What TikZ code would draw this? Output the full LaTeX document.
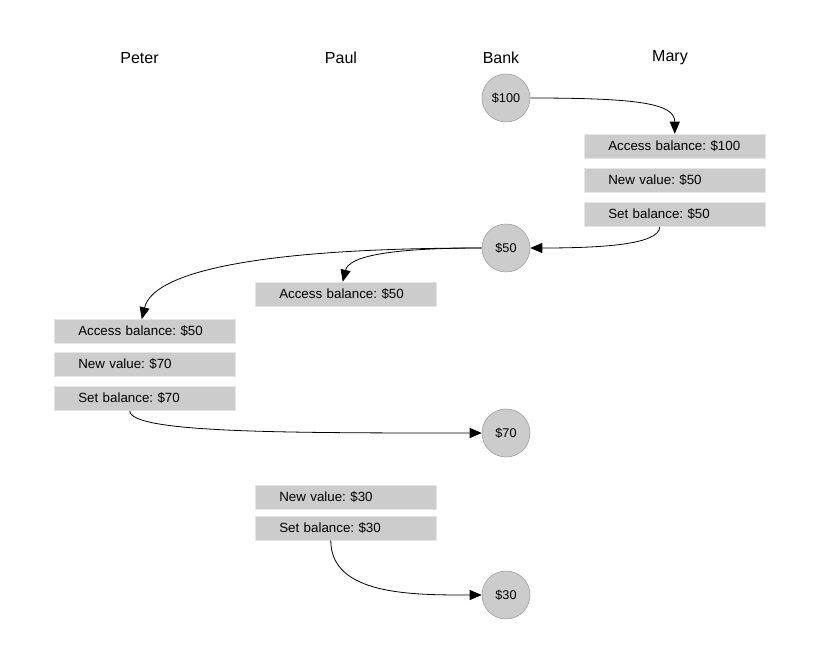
\documentclass[tikz,border=0pt]{standalone}
\usepackage{fontspec}
\setmainfont{Liberation Sans}
\usetikzlibrary{arrows.meta}
\frenchspacing

\begin{document}
\begin{tikzpicture}[
    x=0.75pt, y=-0.75pt,
    who/.style={font=\fontsize{12}{14}\selectfont},
    amount/.style={circle, draw=black!40, fill=black!20, minimum size=36pt, inner sep=0pt, font=\fontsize{9.5}{11}\selectfont},
    opbox/.style={draw=black!10, fill=black!20, anchor=west, minimum height=18pt, inner ysep=0pt, inner xsep=18pt, text width=99.75pt, align=left, font=\fontsize{10}{12}\selectfont},
    arr/.style={-{Triangle[length=9pt,width=7.5pt]}, line width=0.6pt},
]
\useasboundingbox (0,0) rectangle (816,653);

% column heads
\node[who] (peter) at (139.5,58) {Peter};
\node[who] (paul) at (341,58) {Paul};
\node[who] (bank) at (501,58) {Bank};
\node[who] (mary) at (670,58) {Mary};

% balances held by the bank
\node[amount] (b100) at (506,98) {\$100};
\node[amount] (b50) at (506,248) {\$50};
\node[amount] (b70) at (506,433) {\$70};
\node[amount] (b30) at (506,595) {\$30};

% Mary
\node[opbox] (macc) at (584,146) {Access balance: \$100};
\node[opbox] (mnew) at (584,180.5) {New value: \$50};
\node[opbox] (mset) at (584,214.5) {Set balance: \$50};

% Paul
\node[opbox] (pacc) at (255,294) {Access balance: \$50};
\node[opbox] (pnew) at (255,497.5) {New value: \$30};
\node[opbox] (pset) at (255,528) {Set balance: \$30};

% Peter
\node[opbox] (tacc) at (54,331.5) {Access balance: \$50};
\node[opbox] (tnew) at (54,364.5) {New value: \$70};
\node[opbox] (tset) at (54,398.5) {Set balance: \$70};

\draw[arr] (b100.east) .. controls +(110,0) and +(0,-30) .. (macc.north);
\draw[arr] ([xshift=-11.25pt]mset.south) .. controls +(0,18) and +(70,0) .. (b50.east);
\draw[arr] (b50.west) .. controls +(-210,0) and +(12,-50) .. ([xshift=-2.25pt]tacc.north);
\draw[arr] (b50.west) .. controls +(-95,0) and +(6,-25) .. ([xshift=-2.25pt]pacc.north);
\draw[arr] ([xshift=-11.25pt]tset.south) .. controls +(0,22) and +(-200,0) .. (b70.west);
\draw[arr] ([xshift=-11.25pt]pset.south) .. controls +(0,55) and +(-70,0) .. (b30.west);

\end{tikzpicture}
\end{document}
